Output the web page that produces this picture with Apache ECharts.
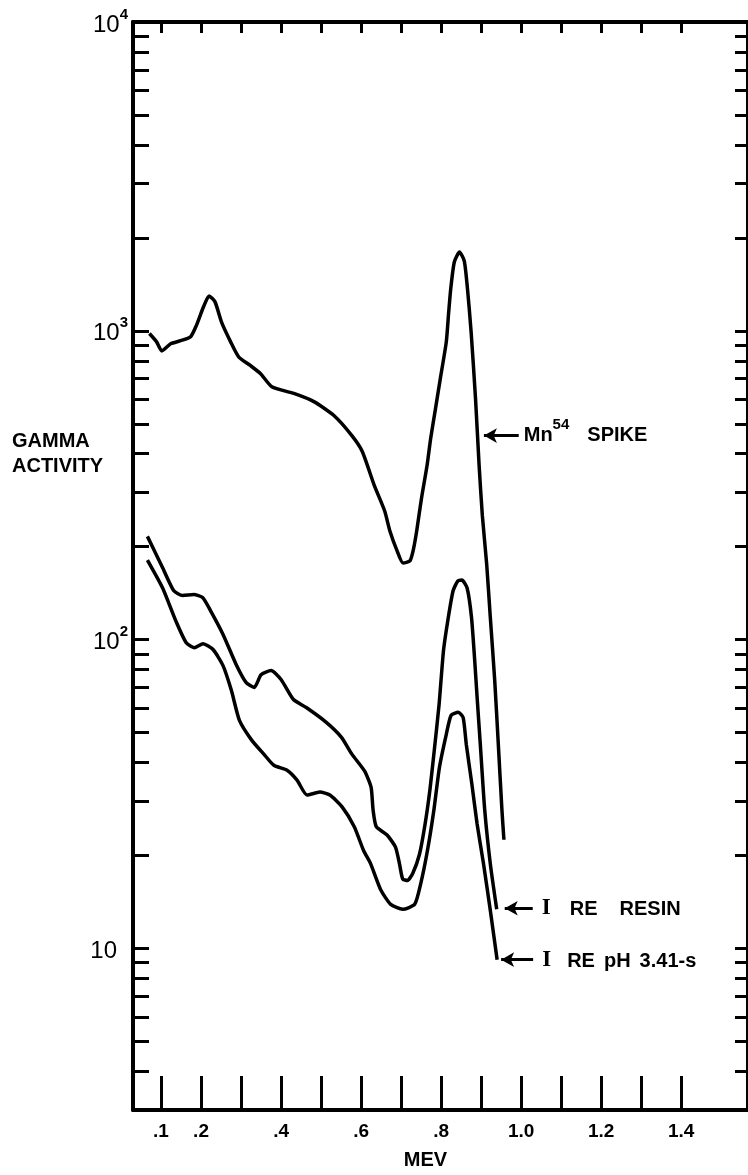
<!DOCTYPE html>
<html>
<head>
<meta charset="utf-8">
<script src="https://cdn.jsdelivr.net/npm/echarts@6/dist/echarts.min.js"></script>
<style>
  html, body { margin: 0; padding: 0; background: #fff; }
  #chart { width: 748px; height: 1175px; }
</style>
</head>
<body>
<div id="chart"></div>
<script>
// energy (MEV) / gamma activity
const mnX = [0.071, 0.089, 0.102, 0.124, 0.149, 0.174, 0.188, 0.206, 0.220, 0.235, 0.251, 0.274, 0.294, 0.324, 0.349, 0.377, 0.432, 0.482, 0.532, 0.577, 0.603, 0.633, 0.659, 0.672, 0.690, 0.705, 0.722, 0.730, 0.739, 0.751, 0.765, 0.774, 0.786, 0.798, 0.813, 0.819, 0.824, 0.833, 0.846, 0.858, 0.866, 0.875, 0.886, 0.895, 0.903, 0.914, 0.923, 0.934, 0.943, 0.952, 0.957]
const mnY = [980, 921, 861, 908, 929, 957, 1038, 1194, 1297, 1241, 1069, 921, 824, 771, 726, 659, 627, 590, 532, 458, 407, 316, 261, 225, 194, 177, 180, 194, 225, 287, 367, 449, 560, 700, 921, 1151, 1365, 1671, 1799, 1683, 1365, 993, 604, 367, 253, 175, 118, 73.8, 45.8, 28.1, 22.5]

const resinX = [0.066, 0.104, 0.132, 0.154, 0.182, 0.204, 0.224, 0.255, 0.288, 0.313, 0.333, 0.350, 0.375, 0.400, 0.431, 0.463, 0.513, 0.551, 0.577, 0.609, 0.625, 0.630, 0.638, 0.665, 0.686, 0.696, 0.704, 0.716, 0.729, 0.746, 0.760, 0.772, 0.783, 0.795, 0.806, 0.818, 0.830, 0.842, 0.852, 0.865, 0.876, 0.884, 0.890, 0.898, 0.909, 0.923, 0.939]
const resinY = [216, 171, 144, 139, 140, 137, 124, 104, 83, 72.6, 70, 77, 79.4, 74.3, 64, 60.3, 54, 48.3, 42.6, 37.5, 33.3, 28.1, 24.8, 23.3, 21.3, 18.8, 16.8, 16.6, 17.5, 20.2, 25.3, 32.6, 43.9, 61.7, 92.2, 118, 144, 155, 156, 147, 118, 85.6, 65, 45.8, 28.1, 18.8, 13.4]

const phX = [0.066, 0.104, 0.137, 0.163, 0.183, 0.205, 0.230, 0.255, 0.276, 0.296, 0.327, 0.357, 0.382, 0.415, 0.440, 0.465, 0.497, 0.522, 0.553, 0.583, 0.606, 0.624, 0.649, 0.674, 0.704, 0.734, 0.749, 0.766, 0.782, 0.796, 0.813, 0.825, 0.843, 0.855, 0.863, 0.877, 0.890, 0.906, 0.924, 0.940]
const phY = [181, 147, 115, 97.7, 94.2, 97, 92.9, 82.4, 68.4, 54.8, 47.2, 42.6, 39.2, 37.8, 35.1, 31.4, 32.1, 31.4, 28.7, 24.8, 20.8, 18.8, 15.5, 13.9, 13.4, 13.9, 16.2, 20.8, 28.1, 38.7, 49.4, 56.9, 58.2, 56, 45.8, 34, 25.3, 18.8, 13.0, 9.2]

// ticks
const xTicks = [0.1, 0.2, 0.3, 0.4, 0.5, 0.6, 0.7, 0.8, 0.9, 1.0, 1.1, 1.2, 1.3, 1.4]
const xLabels = [0.1, 0.2, 0.4, 0.6, 0.8, 1.0, 1.2, 1.4]
const yTicks = [3, 4, 5, 6, 7, 8, 9, 10, 20, 30, 40, 50, 60, 70, 80, 90, 100, 200, 300, 400, 500, 600, 700, 800, 900, 1000, 2000, 3000, 4000, 5000, 6000, 7000, 8000, 9000, 10000]
const yLabels = [10, 100, 1000, 10000]

// arrow annotations: [tip x, tail x, y]
const mnArrow = [0.907, 0.994, 458]
const resinArrow = [0.959, 1.029, 13.5]
const phArrow = [0.950, 1.030, 9.2]

const zip = (xs, ys) => xs.map((x, i) => [x, ys[i]])
const FONT = '"Liberation Sans", Arial, sans-serif'

function arrow(a, text, pad) {
  return {
    silent: true,
    symbol: ['arrow', 'none'],
    symbolSize: [11, 13],
    animation: false,
    lineStyle: { color: '#000', width: 3, type: 'solid' },
    label: { show: true, position: 'end', distance: 5, formatter: text, rich: noteRich, padding: pad },
    emphasis: { disabled: true },
    data: [[{ coord: [a[0], a[2]] }, { coord: [a[1], a[2]] }]]
  }
}

const noteRich = {
  t: { fontFamily: FONT, fontWeight: 'bold', fontSize: 20, color: '#000', lineHeight: 20, verticalAlign: 'bottom' },
  sup: { fontFamily: FONT, fontWeight: 'bold', fontSize: 15, color: '#000', lineHeight: 14, verticalAlign: 'top' },
  I: { fontFamily: '"Liberation Serif", serif', fontWeight: 'bold', fontSize: 23, color: '#000', width: 17, align: 'center' },
  g9: { width: 9 }, g12: { width: 12 }, g15: { width: 15 }, g22: { width: 22 },
  g18: { width: 18, lineHeight: 28 }
}

function line(name, data, mark) {
  return {
    name: name,
    type: 'line',
    data: data,
    showSymbol: false,
    smooth: 0.2,
    lineStyle: { color: '#000', width: 3.5 },
    itemStyle: { color: '#000' },
    emphasis: { disabled: true },
    markLine: mark
  }
}

const ch = echarts.init(document.getElementById('chart'))
const option = {
  animation: false,
  backgroundColor: '#fff',
  grid: { left: 133, right: -1, top: 22, bottom: 62 },
  xAxis: [
    {
      type: 'value',
      position: 'bottom',
      min: 0.03,
      max: 1.567,
      name: 'MEV',
      nameLocation: 'middle',
      nameGap: 40,
      nameTextStyle: { fontFamily: FONT, fontWeight: 'bold', fontSize: 20, color: '#000', padding: [0, 30, 0, 0] },
      axisLine: { lineStyle: { color: '#000', width: 4 } },
      axisTick: { inside: true, length: 34, customValues: xTicks, lineStyle: { color: '#000', width: 3 } },
      axisLabel: {
        customValues: xLabels,
        margin: 12,
        fontFamily: FONT,
        fontWeight: 'bold',
        fontSize: 19,
        color: '#000',
        formatter: v => v < 1 ? '.' + Math.round(v * 10) : v.toFixed(1)
      },
      splitLine: { show: false }
    },
    {
      type: 'value',
      position: 'top',
      min: 0.03,
      max: 1.567,
      axisLine: { lineStyle: { color: '#000', width: 4 } },
      axisTick: { inside: true, length: 11, customValues: xTicks, lineStyle: { color: '#000', width: 3 } },
      axisLabel: { show: false },
      splitLine: { show: false }
    }
  ],
  yAxis: [
    {
      type: 'log',
      logBase: 10,
      min: 3,
      max: 10000,
      axisLine: { lineStyle: { color: '#000', width: 4 } },
      axisTick: { inside: true, length: 16, customValues: yTicks, lineStyle: { color: '#000', width: 3 } },
      axisLabel: {
        customValues: yLabels,
        margin: 5,
        formatter: v => {
          const e = Math.round(Math.log10(v))
          return e === 1 ? '{b|10}{e|}' : '{b|10}{s|' + e + '}'
        },
        rich: {
          b: { fontFamily: FONT, fontSize: 24, color: '#000', lineHeight: 30, verticalAlign: 'bottom' },
          s: { fontFamily: FONT, fontWeight: 'bold', fontSize: 15, color: '#000', verticalAlign: 'top', lineHeight: 14 },
          e: { width: 11 }
        }
      },
      splitLine: { show: false }
    },
    {
      type: 'log',
      logBase: 10,
      min: 3,
      max: 10000,
      position: 'right',
      axisLine: { lineStyle: { color: '#000', width: 4 } },
      axisTick: { inside: true, length: 13, customValues: yTicks, lineStyle: { color: '#000', width: 3 } },
      axisLabel: { show: false },
      splitLine: { show: false }
    }
  ],
  graphic: [
    {
      type: 'text',
      left: 12,
      top: 429,
      style: { text: 'GAMMA\nACTIVITY', font: 'bold 20px ' + FONT, lineHeight: 25, fill: '#000' }
    }
  ],
  series: [
    line('Mn54 SPIKE', zip(mnX, mnY), arrow(mnArrow, '{t|Mn}{sup|54}{g18|}{t|SPIKE}', [0, 0, 8, 0])),
    line('I RE RESIN', zip(resinX, resinY), arrow(resinArrow, '{I|I}{g15|}{t|RE}{g22|}{t|RESIN}', 0)),
    line('I RE pH 3.41-s', zip(phX, phY), arrow(phArrow, '{I|I}{g12|}{t|RE}{g9|}{t|pH}{g9|}{t|3.41-s}', 0))
  ]
}
ch.setOption(option)
</script>
</body>
</html>
